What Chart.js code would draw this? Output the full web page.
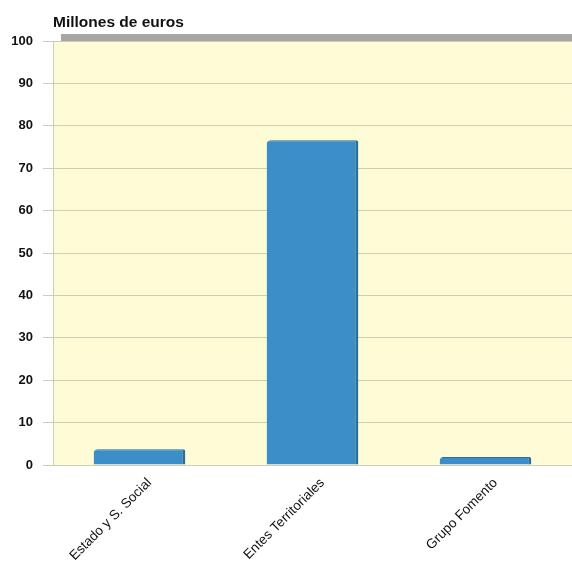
<!DOCTYPE html>
<html>
<head>
<meta charset="utf-8">
<script src="https://cdn.jsdelivr.net/npm/chart.js@4/dist/chart.umd.min.js"></script>
<style>
  html, body { margin: 0; padding: 0; background: #fff; }
  #wrap { width: 572px; height: 566px; }
</style>
</head>
<body>
<div id="wrap"><canvas id="chart" width="572" height="566"></canvas></div>
<script>
const categories = ["Estado y S. Social", "Entes Territoriales", "Grupo Fomento"];
const valores = [3.7, 76.6, 1.9];
const yTicks = [0, 10, 20, 30, 40, 50, 60, 70, 80, 90, 100];
const axisTitle = "Millones de euros";

// plot background, grey top wall and title
const decor = {
  id: "decor",
  beforeDraw(chart) {
    const { ctx, chartArea: a } = chart;
    ctx.save();
    ctx.fillStyle = "#fdfcd6";
    ctx.fillRect(a.left, a.top, a.right - a.left, a.bottom - a.top);
    ctx.fillStyle = "#a7a7a5";
    ctx.fillRect(a.left + 8, a.top - 7, a.right - a.left - 8, 7);
    ctx.fillStyle = "#111";
    ctx.font = "bold 15.5px 'Liberation Sans', Arial, sans-serif";
    ctx.textBaseline = "alphabetic";
    ctx.fillText(axisTitle, a.left, a.top - 14);
    ctx.restore();
  }
};

new Chart(document.getElementById("chart"), {
  type: "bar",
  data: {
    labels: categories,
    datasets: [{
      data: valores,
      backgroundColor: "#3b8ec7",
      borderColor: "#2a6e9c",
      borderWidth: { top: 1, right: 3, left: 0, bottom: 0 },
      borderRadius: { topLeft: 4, topRight: 2 },
      borderSkipped: "bottom",
      barPercentage: 0.53,
      categoryPercentage: 1
    }]
  },
  plugins: [decor],
  options: {
    responsive: false,
    animation: false,
    layout: { padding: { top: 41, right: 0, left: 0, bottom: 0 } },
    plugins: { legend: { display: false }, tooltip: { enabled: false } },
    scales: {
      x: {
        grid: { display: false },
        border: { display: true, color: "#cfcdb6" },
        ticks: {
          color: "#111",
          font: { family: "'Liberation Sans', Arial, sans-serif", size: 13.5 },
          minRotation: 45,
          maxRotation: 45,
          padding: 2,
          labelOffset: 10
        },
        afterFit(scale) { scale.height = 101; }
      },
      y: {
        min: 0,
        max: 100,
        afterBuildTicks(scale) { scale.ticks = yTicks.map(v => ({ value: v })); },
        grid: { color: "#cfcdb6", tickLength: 10 },
        border: { display: true, color: "#cfcdb6" },
        ticks: {
          color: "#111",
          font: { family: "'Liberation Sans', Arial, sans-serif", size: 13, weight: "bold" },
          padding: 10
        },
        afterFit(scale) { scale.width = 53; }
      }
    }
  }
});
</script>
</body>
</html>
